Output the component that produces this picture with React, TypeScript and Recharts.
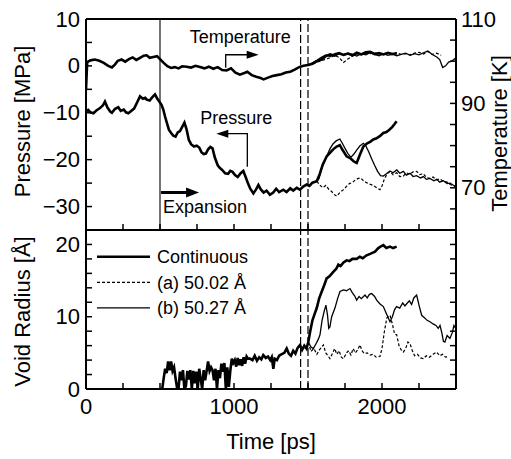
import React from 'react';
import { LineChart, Line, XAxis, YAxis, ReferenceLine, ReferenceDot, Legend } from 'recharts';

const FONT = '"Liberation Sans", Arial, Helvetica, sans-serif';
type Pt = [number, number];

// ---- axes ----
const timeTicks = [0, 250, 500, 750, 1000, 1250, 1500, 1750, 2000, 2250, 2500];
const timeLabels = [0, 1000, 2000];
const pressureTicks = [-35, -30, -25, -20, -15, -10, -5, 0, 5, 10];
const pressureLabels = [-30, -20, -10, 0, 10];
const temperatureTicks = [60, 65, 70, 75, 80, 85, 90, 95, 100, 105, 110];
const temperatureLabels = [70, 90, 110];
const radiusTicks = [0, 2, 4, 6, 8, 10, 12, 14, 16, 18, 20, 22];
const radiusLabels = [0, 10, 20];

// ---- marker times ----
const expansionStart = 500;
const branchTimes = [1450, 1500];

// ---- legend ----
const legendNames = ['Continuous', '(a) 50.02 Å', '(b) 50.27 Å'];

// ---- temperature [K] ----
const temperatureContinuous: Pt[] = [
  [0, 93.2], [8, 99.8], [30, 100.2], [60, 100.4], [90, 100.1], [120, 99.6], [150, 98.9], [175, 98.5], [195, 99.2],
  [215, 100.1], [240, 100.4], [265, 99.9], [290, 100.5], [315, 100.9], [340, 100.3], [365, 100.8], [390, 101.3],
  [410, 101.4], [430, 100.8], [455, 101.0], [480, 101.2], [500, 100.5], [525, 99.6], [550, 98.8], [575, 98.4],
  [600, 98.6], [625, 98.3], [650, 98.8], [680, 98.7], [710, 98.5], [740, 98.9], [770, 98.6], [800, 98.3],
  [830, 98.7], [860, 98.2], [890, 98.6], [920, 97.9], [950, 97.8], [980, 98.3], [1010, 97.3], [1040, 96.8],
  [1070, 97.2], [1090, 97.5], [1120, 96.7], [1150, 96.3], [1180, 96.0], [1200, 95.7], [1230, 96.1], [1260, 96.5],
  [1290, 96.7], [1320, 96.9], [1350, 97.3], [1380, 97.5], [1410, 98.0], [1440, 98.6], [1470, 98.9], [1500, 99.1],
  [1530, 99.4], [1560, 100.0], [1590, 100.4], [1620, 101.2], [1650, 101.6], [1680, 101.3], [1710, 101.9],
  [1740, 101.5], [1770, 101.8], [1800, 101.4], [1830, 102.0], [1860, 101.6], [1890, 102.1], [1920, 102.2],
  [1950, 101.7], [1980, 101.9], [2010, 101.6], [2040, 102.0], [2070, 101.7], [2100, 101.9],
];
const temperatureA: Pt[] = [
  [1500, 99.1], [1530, 99.3], [1560, 99.8], [1590, 100.1], [1620, 100.5], [1650, 100.8], [1680, 101.4],
  [1710, 100.9], [1740, 99.7], [1770, 100.5], [1800, 101.2], [1830, 101.8], [1860, 101.5], [1890, 101.9],
  [1920, 101.8], [1950, 102.0], [1980, 101.6], [2010, 101.9], [2040, 101.7], [2070, 101.5], [2100, 102.0],
  [2130, 101.6], [2160, 101.8], [2190, 101.5], [2220, 101.9], [2250, 102.1], [2280, 101.7], [2310, 102.3],
  [2340, 101.6], [2370, 101.9], [2400, 101.4],
];
const temperatureB: Pt[] = [
  [1500, 99.1], [1530, 99.6], [1560, 100.2], [1590, 100.9], [1620, 101.5], [1650, 101.1], [1680, 101.8],
  [1710, 102.0], [1740, 101.4], [1770, 101.9], [1800, 101.6], [1830, 101.2], [1860, 101.8], [1890, 101.5],
  [1920, 102.0], [1950, 101.6], [1980, 101.3], [2010, 101.8], [2040, 101.4], [2070, 101.7], [2100, 101.3],
  [2130, 101.6], [2160, 101.9], [2190, 101.4], [2220, 101.8], [2250, 101.5], [2280, 102.0], [2310, 102.4],
  [2340, 101.6], [2370, 101.0], [2390, 100.4], [2410, 98.5], [2430, 98.9], [2450, 99.8], [2470, 100.0], [2500, 100.8],
];

// ---- pressure [MPa] ----
const pressureContinuous: Pt[] = [
  [0, -9.7], [15, -9.4], [30, -9.9], [50, -10.1], [70, -9.5], [95, -9.0], [115, -8.4], [128, -7.6], [145, -8.9],
  [165, -9.8], [175, -10.0], [195, -9.2], [218, -8.8], [235, -9.6], [255, -9.3], [270, -9.9], [286, -10.1],
  [305, -9.6], [325, -9.1], [345, -7.8], [365, -6.5], [385, -7.0], [400, -6.8], [410, -7.2], [430, -7.4],
  [450, -6.6], [466, -6.1], [480, -6.9], [495, -7.6], [510, -8.3], [522, -9.3], [535, -10.9], [548, -12.3],
  [560, -13.6], [575, -14.3], [590, -14.9], [605, -15.1], [620, -14.2], [635, -13.9], [650, -13.0], [665, -12.1],
  [680, -13.6], [695, -15.8], [710, -16.7], [730, -17.2], [748, -17.0], [765, -17.4], [780, -18.4], [795, -18.8],
  [810, -18.7], [825, -17.8], [840, -17.3], [855, -17.6], [870, -19.5], [890, -21.2], [905, -21.8], [920, -22.2],
  [940, -22.9], [960, -23.0], [975, -22.4], [990, -22.6], [1007, -23.3], [1025, -23.7], [1045, -22.9],
  [1063, -22.4], [1080, -23.8], [1095, -25.1], [1110, -26.2], [1131, -27.2], [1150, -26.3], [1165, -25.4],
  [1180, -26.3], [1200, -27.0], [1220, -26.6], [1243, -27.5], [1265, -27.0], [1285, -26.2], [1305, -26.9],
  [1333, -26.4], [1355, -26.9], [1380, -26.1], [1400, -26.6], [1424, -26.0], [1445, -26.4], [1470, -25.7],
  [1491, -25.3], [1510, -25.6], [1530, -24.9], [1559, -24.6], [1580, -23.0], [1600, -21.0], [1626, -19.3],
  [1650, -18.5], [1670, -17.8], [1694, -17.2], [1715, -16.9], [1735, -18.0], [1761, -19.3], [1790, -19.8],
  [1810, -20.4], [1829, -20.7], [1850, -19.0], [1874, -17.2], [1900, -16.5], [1920, -16.2], [1941, -15.7],
  [1960, -15.5], [1985, -15.0], [2009, -14.3], [2030, -14.1], [2050, -13.6], [2070, -13.0], [2085, -12.4], [2099, -11.8],
];
const pressureA: Pt[] = [
  [1559, -24.6], [1580, -25.4], [1600, -26.0], [1620, -25.5], [1640, -26.3], [1660, -26.8], [1680, -27.5],
  [1694, -27.8], [1715, -27.0], [1740, -26.4], [1760, -25.7], [1780, -25.1], [1800, -24.9], [1820, -24.3],
  [1840, -24.0], [1855, -23.9], [1875, -24.5], [1895, -24.9], [1915, -25.2], [1941, -25.5], [1965, -26.0],
  [1986, -26.4], [2000, -25.6], [2015, -24.2], [2035, -23.0], [2054, -22.5], [2075, -23.2], [2100, -22.8],
  [2120, -23.6], [2144, -23.5], [2165, -22.8], [2190, -23.1], [2210, -22.6], [2234, -22.5], [2255, -23.2],
  [2280, -23.0], [2300, -23.8], [2324, -24.0], [2345, -23.7], [2370, -24.3], [2390, -24.1], [2414, -24.6],
  [2440, -24.8], [2460, -25.3], [2480, -25.5], [2500, -26.0],
];
const pressureB: Pt[] = [
  [1559, -24.6], [1575, -24.0], [1590, -22.0], [1610, -20.5], [1630, -19.0], [1650, -17.6], [1670, -16.6],
  [1690, -16.0], [1715, -15.6], [1730, -16.4], [1750, -17.6], [1770, -18.7], [1790, -19.5], [1810, -18.8],
  [1830, -17.9], [1850, -17.1], [1874, -16.5], [1890, -17.0], [1910, -18.3], [1930, -19.8], [1950, -21.2],
  [1970, -22.5], [1990, -23.4], [2009, -23.5], [2030, -23.0], [2054, -22.4], [2075, -22.8], [2100, -22.2],
  [2120, -22.9], [2144, -22.5], [2165, -23.3], [2190, -22.9], [2210, -23.6], [2234, -23.4], [2260, -23.9],
  [2280, -23.6], [2300, -24.2], [2324, -24.0], [2350, -24.5], [2370, -24.2], [2390, -24.8], [2414, -24.5],
  [2440, -25.1], [2460, -25.0], [2480, -25.4], [2500, -25.7],
];

// ---- void radius [Å] ----
const radiusContinuous: Pt[] = [
  [500, 0], [515, 0], [525, 1.5], [535, 2.8], [545, 2.2], [555, 3.8], [565, 2.6], [575, 3.8], [585, 2.5], [595, 3.0],
  [605, 1.5], [615, 0.2], [625, 0], [635, 2.4], [645, 1.2], [655, 2.6], [665, 0], [675, 0.4], [685, 2.5], [695, 1.3],
  [705, 2.6], [715, 0], [725, 2.5], [735, 0.8], [745, 2.4], [755, 0], [765, 2.8], [775, 1.4], [785, 0], [795, 2.6],
  [805, 1.2], [815, 2.5], [825, 3.8], [835, 2.5], [845, 3.0], [855, 2.6], [865, 1.2], [875, 2.8], [885, 0], [895, 2.6],
  [905, 1.5], [915, 3.5], [925, 2.4], [935, 3.6], [945, 0], [955, 3.0], [965, 0.3], [975, 2.5], [985, 4.2], [995, 3.6],
  [1005, 4.0], [1015, 3.1], [1025, 4.3], [1035, 3.3], [1045, 4.1], [1055, 3.2], [1065, 4.4], [1075, 3.5], [1085, 4.5],
  [1095, 4.2], [1108, 4.2], [1125, 4.0], [1140, 4.6], [1155, 3.9], [1170, 4.4], [1185, 4.1], [1198, 4.7], [1215, 4.3],
  [1230, 4.5], [1245, 4.0], [1255, 4.4], [1266, 2.8], [1275, 4.2], [1290, 4.0], [1305, 4.6], [1320, 4.8], [1340, 5.0],
  [1356, 5.6], [1370, 4.9], [1385, 4.6], [1400, 5.3], [1415, 4.9], [1430, 5.7], [1446, 6.1], [1460, 5.4], [1475, 6.0],
  [1490, 5.6], [1502, 6.5], [1514, 7.9], [1530, 9.5], [1545, 10.4], [1559, 11.2], [1575, 12.5], [1593, 13.5],
  [1610, 14.4], [1626, 15.3], [1645, 15.6], [1671, 16.2], [1690, 16.6], [1705, 17.2], [1720, 17.0], [1740, 17.5],
  [1761, 17.8], [1780, 17.7], [1800, 18.0], [1829, 18.0], [1850, 18.3], [1870, 18.1], [1896, 18.5], [1920, 18.7],
  [1953, 19.0], [1975, 19.5], [1990, 19.7], [2009, 19.9], [2030, 19.5], [2054, 19.7], [2075, 19.5], [2099, 19.7],
];
const radiusA: Pt[] = [
  [1502, 6.5], [1520, 5.2], [1540, 5.6], [1560, 4.8], [1580, 5.5], [1604, 6.1], [1620, 5.0], [1635, 4.6], [1648, 4.2],
  [1665, 4.9], [1680, 5.6], [1695, 4.8], [1710, 5.3], [1725, 4.4], [1740, 4.2], [1760, 5.0], [1775, 5.3], [1790, 4.7],
  [1805, 5.6], [1820, 5.0], [1835, 5.4], [1851, 6.1], [1865, 5.3], [1880, 4.9], [1900, 5.0], [1920, 4.7], [1940, 4.8],
  [1960, 4.4], [1986, 4.5], [2000, 5.6], [2015, 7.8], [2032, 9.8], [2054, 10.2], [2070, 9.0], [2085, 7.6], [2099, 7.5],
  [2115, 6.0], [2130, 5.4], [2144, 5.1], [2160, 5.6], [2175, 6.5], [2189, 6.3], [2205, 5.3], [2220, 4.6], [2240, 4.8],
  [2260, 4.3], [2279, 4.2], [2300, 4.6], [2320, 4.4], [2345, 4.8], [2369, 5.1], [2390, 4.6], [2410, 4.8], [2430, 4.4],
  [2448, 4.5],
];
const radiusB: Pt[] = [
  [1502, 6.5], [1520, 5.8], [1536, 5.6], [1555, 6.3], [1570, 6.9], [1581, 7.5], [1595, 9.5], [1610, 10.8],
  [1621, 11.6], [1632, 10.2], [1640, 8.4], [1648, 8.6], [1660, 10.0], [1682, 11.2], [1700, 12.5], [1716, 13.5],
  [1740, 13.7], [1760, 13.6], [1784, 13.9], [1800, 13.3], [1815, 12.9], [1829, 12.3], [1845, 12.8], [1860, 12.5],
  [1885, 13.0], [1900, 12.6], [1915, 13.1], [1930, 13.2], [1950, 12.8], [1964, 12.3], [1985, 11.8], [2009, 11.4],
  [2030, 10.4], [2054, 9.3], [2070, 10.0], [2085, 11.0], [2099, 11.4], [2120, 11.2], [2140, 11.9], [2155, 11.5],
  [2167, 11.8], [2185, 12.2], [2200, 11.7], [2215, 12.6], [2234, 13.0], [2250, 11.6], [2268, 10.2], [2285, 9.9],
  [2305, 9.5], [2324, 9.3], [2345, 9.0], [2365, 8.8], [2380, 8.4], [2392, 8.8], [2405, 7.7], [2415, 6.6],
  [2425, 6.5], [2440, 7.4], [2459, 7.0], [2475, 7.8], [2486, 8.8], [2500, 8.3],
];

// ---- helpers ----
const rows = (s: Pt[]) => s.map(([t, v]) => ({ t, v }));
const fmt = (v: number) => (v < 0 ? '\u2212' + Math.abs(v) : String(v));
const AXIS = { stroke: '#000', strokeWidth: 2 };
const TICK_LEN = 6;
const THICK = 2.6;
const THIN = 1.3;
const DASH = '3 2';
const legendStyles = [
  { w: THICK, dash: undefined as string | undefined },
  { w: 1.2, dash: DASH },
  { w: THIN, dash: undefined as string | undefined },
];

const LeftTick = (p: any, labels: number[]) => (
  <g>
    <line x1={p.x} x2={p.x + TICK_LEN} y1={p.y} y2={p.y} stroke="#000" strokeWidth={1.5} />
    {labels.includes(p.payload.value) && (
      <text x={p.x - 6} y={p.y} textAnchor="end" dominantBaseline="central" fontSize={22} fontFamily={FONT} fill="#000">
        {fmt(p.payload.value)}
      </text>
    )}
  </g>
);
const RightTick = (p: any, labels: number[]) => (
  <g>
    <line x1={p.x} x2={p.x - TICK_LEN} y1={p.y} y2={p.y} stroke="#000" strokeWidth={1.5} />
    {labels.includes(p.payload.value) && (
      <text x={p.x + 5} y={p.y} textAnchor="start" dominantBaseline="central" fontSize={22} fontFamily={FONT} fill="#000">
        {fmt(p.payload.value)}
      </text>
    )}
  </g>
);
const BottomTick = (p: any, labels: number[]) => (
  <g>
    <line x1={p.x} x2={p.x} y1={p.y} y2={p.y - TICK_LEN} stroke="#000" strokeWidth={1.5} />
    {labels.includes(p.payload.value) && (
      <text x={p.x} y={p.y + 25} textAnchor="middle" fontSize={22} fontFamily={FONT} fill="#000">
        {fmt(p.payload.value)}
      </text>
    )}
  </g>
);

const vTitle = (text: string, dx: number, dy: number) => (props: any) => {
  const vb = props.viewBox || {};
  const x = vb.x + dx;
  const y = vb.y + vb.height / 2 + dy;
  return (
    <text x={x} y={y} transform={`rotate(-90 ${x} ${y})`} textAnchor="middle" dominantBaseline="central"
      fontSize={22} fontFamily={FONT} fill="#000">{text}</text>
  );
};
const hTitle = (text: string, dy: number) => (props: any) => {
  const vb = props.viewBox || {};
  return (
    <text x={vb.x + vb.width / 2} y={vb.y + dy} textAnchor="middle" fontSize={22} fontFamily={FONT} fill="#000">{text}</text>
  );
};

const TemperatureNote = (p: any) => (
  <g>
    <text x={p.cx - 36} y={p.cy - 25} fontSize={18} fontFamily={FONT} fill="#000">Temperature</text>
    <polyline points={`${p.cx},${p.cy} ${p.cx},${p.cy - 13} ${p.cx + 22},${p.cy - 13}`} fill="none" stroke="#000" strokeWidth={1.3} />
    <polygon points={`${p.cx + 33},${p.cy - 13} ${p.cx + 21},${p.cy - 17} ${p.cx + 21},${p.cy - 9}`} fill="#000" />
  </g>
);
const PressureNote = (p: any) => (
  <g>
    <text x={p.cx - 47} y={p.cy - 43} fontSize={18} fontFamily={FONT} fill="#000">Pressure</text>
    <polyline points={`${p.cx},${p.cy} ${p.cx},${p.cy - 33} ${p.cx - 20},${p.cy - 33}`} fill="none" stroke="#000" strokeWidth={1.3} />
    <polygon points={`${p.cx - 31},${p.cy - 33} ${p.cx - 19},${p.cy - 37} ${p.cx - 19},${p.cy - 29}`} fill="#000" />
  </g>
);
const ExpansionNote = (p: any) => (
  <g>
    <line x1={p.cx} y1={p.cy} x2={p.cx + 27} y2={p.cy} stroke="#000" strokeWidth={3} />
    <polygon points={`${p.cx + 38},${p.cy} ${p.cx + 25},${p.cy - 5} ${p.cx + 25},${p.cy + 5}`} fill="#000" />
    <text x={p.cx + 2} y={p.cy + 21} fontSize={18} fontFamily={FONT} fill="#000">Expansion</text>
  </g>
);

const LegendBox = () => (
  <svg width={190} height={76} style={{ overflow: 'visible', display: 'block' }}>
    {legendNames.map((name, i) => {
      const y = 12.7 + i * 25.6;
      return (
        <g key={name}>
          <line x1={5} x2={58} y1={y} y2={y} stroke="#000" strokeWidth={legendStyles[i].w} strokeDasharray={legendStyles[i].dash} />
          <text x={65} y={y + 6.5} fontSize={18} fontFamily={FONT} fill="#000">{name}</text>
        </g>
      );
    })}
  </svg>
);

export default function App() {
  return (
    <div style={{ position: 'absolute', left: 0, top: 0, width: 511, height: 459, background: '#fff' }}>
      <div style={{ position: 'absolute', left: 0, top: 0 }}>
        <LineChart width={511} height={240} margin={{ top: 19, right: 0, bottom: 0, left: 0 }}>
          <XAxis dataKey="t" type="number" domain={[0, 2500]} allowDataOverflow ticks={timeTicks} interval={0}
            tickSize={0} tickMargin={0} tickLine={false} axisLine={AXIS} height={10}
            tick={(p: any) => BottomTick(p, [])} />
          <YAxis yAxisId="p" orientation="left" type="number" width={86} domain={[-35, 10]} allowDataOverflow
            ticks={pressureTicks} interval={0} tickSize={0} tickMargin={0} tickLine={false} axisLine={AXIS}
            tick={(p: any) => LeftTick(p, pressureLabels)} label={vTitle('Pressure [MPa]', 22, -3)} />
          <YAxis yAxisId="T" orientation="right" type="number" width={55} domain={[60, 110]} allowDataOverflow
            ticks={temperatureTicks} interval={0} tickSize={0} tickMargin={0} tickLine={false} axisLine={AXIS}
            tick={(p: any) => RightTick(p, temperatureLabels)} label={vTitle('Temperature [K]', 43, 9)} />
          <ReferenceLine yAxisId="p" y={10} stroke="#000" strokeWidth={2} />
          <ReferenceLine yAxisId="p" x={expansionStart} stroke="#000" strokeWidth={1.1} />
          {branchTimes.map((t) => (
            <ReferenceLine key={t} yAxisId="p" x={t} stroke="#000" strokeWidth={1.2} strokeDasharray="8 3" />
          ))}
          <Line yAxisId="T" data={rows(temperatureContinuous)} dataKey="v" stroke="#000" strokeWidth={THICK} dot={false} isAnimationActive={false} />
          <Line yAxisId="T" data={rows(temperatureA)} dataKey="v" stroke="#000" strokeWidth={1.2} strokeDasharray={DASH} dot={false} isAnimationActive={false} />
          <Line yAxisId="T" data={rows(temperatureB)} dataKey="v" stroke="#000" strokeWidth={THIN} dot={false} isAnimationActive={false} />
          <Line yAxisId="p" data={rows(pressureContinuous)} dataKey="v" stroke="#000" strokeWidth={THICK} dot={false} isAnimationActive={false} />
          <Line yAxisId="p" data={rows(pressureA)} dataKey="v" stroke="#000" strokeWidth={1.2} strokeDasharray={DASH} dot={false} isAnimationActive={false} />
          <Line yAxisId="p" data={rows(pressureB)} dataKey="v" stroke="#000" strokeWidth={THIN} dot={false} isAnimationActive={false} />
          <ReferenceDot yAxisId="p" x={944} y={-0.4} r={0} shape={TemperatureNote} />
          <ReferenceDot yAxisId="p" x={1090} y={-21.5} r={0} shape={PressureNote} />
          <ReferenceDot yAxisId="p" x={507} y={-27} r={0} shape={ExpansionNote} />
        </LineChart>
      </div>
      <div style={{ position: 'absolute', left: 0, top: 0 }}>
        <LineChart width={511} height={459} margin={{ top: 230, right: 0, bottom: 0, left: 0 }}>
          <XAxis dataKey="t" type="number" domain={[0, 2500]} allowDataOverflow ticks={timeTicks} interval={0}
            tickSize={0} tickMargin={0} tickLine={false} axisLine={AXIS} height={70}
            tick={(p: any) => BottomTick(p, timeLabels)} label={hTitle('Time [ps]', 60)} />
          <YAxis yAxisId="r" orientation="left" type="number" width={86} domain={[0, 22]} allowDataOverflow
            ticks={radiusTicks} interval={0} tickSize={0} tickMargin={0} tickLine={false} axisLine={AXIS}
            tick={(p: any) => LeftTick(p, radiusLabels)} label={vTitle('Void Radius [Å]', 22, 2)} />
          <YAxis yAxisId="r2" orientation="right" type="number" width={55} domain={[0, 22]} allowDataOverflow
            ticks={radiusTicks} interval={0} tickSize={0} tickMargin={0} tickLine={false} axisLine={AXIS}
            tick={(p: any) => RightTick(p, [])} />
          {branchTimes.map((t) => (
            <ReferenceLine key={t} yAxisId="r" x={t} stroke="#000" strokeWidth={1.2} strokeDasharray="8 3" />
          ))}
          <Line yAxisId="r" name={legendNames[0]} data={rows(radiusContinuous)} dataKey="v" stroke="#000" strokeWidth={THICK} dot={false} isAnimationActive={false} />
          <Line yAxisId="r" name={legendNames[1]} data={rows(radiusA)} dataKey="v" stroke="#000" strokeWidth={1.2} strokeDasharray={DASH} dot={false} isAnimationActive={false} />
          <Line yAxisId="r" name={legendNames[2]} data={rows(radiusB)} dataKey="v" stroke="#000" strokeWidth={THIN} dot={false} isAnimationActive={false} />
          <Legend layout="vertical" align="center" verticalAlign="middle" content={() => <LegendBox />}
            wrapperStyle={{ position: 'absolute', left: 92, top: 244, width: 190, height: 76 }} />
        </LineChart>
      </div>
    </div>
  );
}
